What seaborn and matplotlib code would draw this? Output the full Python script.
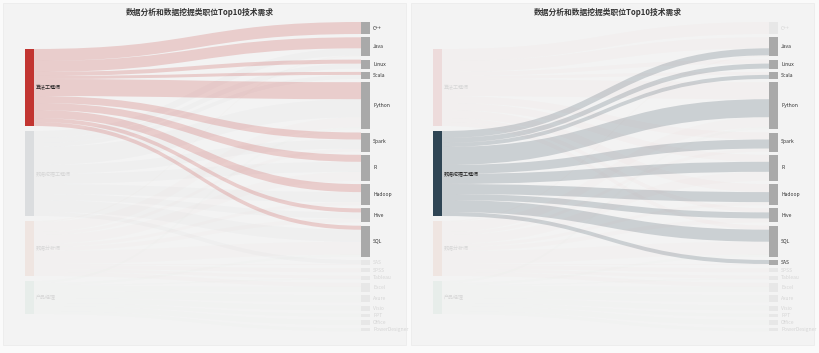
import numpy as np
import matplotlib
matplotlib.use("Agg")
import matplotlib.pyplot as plt
from matplotlib.path import Path
from matplotlib.patches import PathPatch, Rectangle
import seaborn as sns

# ---------------- data ----------------
title = "数据分析和数据挖掘类职位Top10技术需求"
sources = ["算法工程师", "数据挖掘工程师", "数据分析师", "产品经理"]
targets = ["C++", "Java", "Linux", "Scala", "Python", "Spark", "R", "Hadoop", "Hive", "SQL",
           "SAS", "SPSS", "Tableau", "Excel", "Axure", "Visio", "PPT", "Office", "PowerDesigner"]
algo_vals    = [12, 11, 4, 3, 17, 7, 7, 8, 4, 4, 0, 0, 0, 0, 0, 0, 0, 0, 0]
mining_vals  = [0, 7, 5, 4, 18, 9, 10, 10, 6, 12, 4, 0, 0, 0, 0, 0, 0, 0, 0]
analyst_vals = [0, 1, 0, 0, 10, 3, 9, 3, 4, 13, 1, 4, 3, 4, 0, 0, 0, 0, 0]
pm_vals      = [0, 0, 0, 0, 2, 0, 0, 0, 0, 2, 0, 0, 1, 5, 7, 5, 3, 5, 3]
focus_nodes = ["算法工程师", "数据挖掘工程师"]   # highlighted source in each panel

# ---------------- style ----------------
sns.set_theme(style="white")
plt.rcParams["font.family"] = ["Noto Sans CJK SC", "DejaVu Sans"]
src_colors = ["#c23531", "#2f4554", "#d48265", "#91c7ae"]
tgt_color = "#a9a9a9"

W, H = 819, 353
fig = plt.figure(figsize=(W / 100, H / 100), dpi=100, facecolor="#fafafa")
ax = fig.add_axes([0, 0, 1, 1])
ax.set_xlim(0, W)
ax.set_ylim(H, 0)
ax.axis("off")

flows = np.array([algo_vals, mining_vals, analyst_vals, pm_vals], dtype=float)
scale = 1.0          # px per unit
src_top, src_gap = 49.0, 5.0
tgt_top, tgt_gap = 22.0, 3.3
node_w = 9.0
src_x, tgt_x = 25.0, 361.0
panel_dx = 408.0


def column_layout(totals, top, gap):
    tops, y = [], top
    for t in totals:
        tops.append(y)
        y += t * scale + gap
    return np.array(tops)


src_tot = flows.sum(axis=1)
tgt_tot = flows.sum(axis=0)
src_tops = column_layout(src_tot, src_top, src_gap)
tgt_tops = column_layout(tgt_tot, tgt_top, tgt_gap)


def link_patch(x0, y0, x1, y1, w, color, alpha):
    xm = (x0 + x1) / 2
    verts = [(x0, y0), (xm, y0), (xm, y1), (x1, y1),
             (x1, y1 + w), (xm, y1 + w), (xm, y0 + w), (x0, y0 + w), (x0, y0)]
    codes = [Path.MOVETO, Path.CURVE4, Path.CURVE4, Path.CURVE4,
             Path.LINETO, Path.CURVE4, Path.CURVE4, Path.CURVE4, Path.CLOSEPOLY]
    return PathPatch(Path(verts, codes), facecolor=color, edgecolor="none", alpha=alpha, zorder=1)


def draw_panel(dx, focus_name):
    f = sources.index(focus_name)
    ax.add_patch(Rectangle((dx + 3, 3), 403, 342, facecolor="#f3f3f3", edgecolor="#ececec",
                           lw=0.6, zorder=0))
    ax.text(dx + 200, 12, title, ha="center", va="center", fontsize=5.6,
            fontweight="bold", color="#333333", zorder=5)
    out_off = src_tops.copy()
    in_off = tgt_tops.copy()
    patches = []
    for i in range(len(sources)):
        for j in range(len(targets)):
            v = flows[i, j]
            if v <= 0:
                continue
            w = v * scale
            active = i == f
            p = link_patch(dx + src_x + node_w, out_off[i], dx + tgt_x, in_off[j], w,
                           src_colors[i], 0.2 if active else 0.018)
            patches.append((active, p))
            out_off[i] += w
            in_off[j] += w
    for active, p in sorted(patches, key=lambda t: t[0]):
        ax.add_patch(p)
    for i, name in enumerate(sources):
        active = i == f
        h = src_tot[i] * scale
        ax.add_patch(Rectangle((dx + src_x, src_tops[i]), node_w, h, facecolor=src_colors[i],
                               alpha=1.0 if active else 0.12, edgecolor="none", zorder=3))
        ax.text(dx + src_x + node_w + 2, src_tops[i] + h / 2, name, ha="left", va="center",
                fontsize=3.6, color="#222222" if active else "#d6d6d6", zorder=5)
    for j, name in enumerate(targets):
        active = flows[f, j] > 0
        h = tgt_tot[j] * scale
        ax.add_patch(Rectangle((dx + tgt_x, tgt_tops[j]), node_w, h, facecolor=tgt_color,
                               alpha=1.0 if active else 0.15, edgecolor="none", zorder=3))
        ax.text(dx + tgt_x + node_w + 3, tgt_tops[j] + h / 2, name, ha="left", va="center",
                fontsize=3.6, color="#333333" if active else "#d6d6d6", zorder=5)


for k, fn in enumerate(focus_nodes):
    draw_panel(k * panel_dx, fn)

fig.savefig("out.png", dpi=100, facecolor=fig.get_facecolor())
